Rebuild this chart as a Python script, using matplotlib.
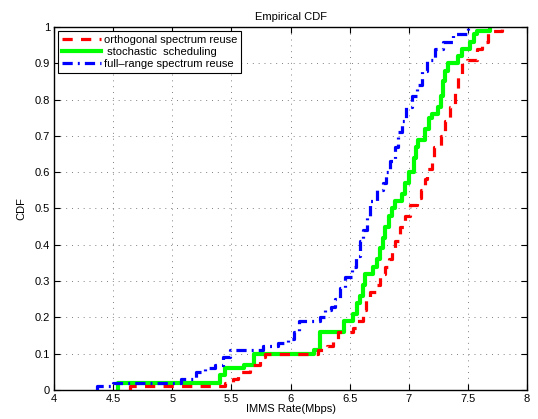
import matplotlib
matplotlib.use("Agg")
import matplotlib.pyplot as plt
import numpy as np

plt.rcParams['font.family'] = ['Liberation Sans', 'DejaVu Sans']

# Step vertices (x, CDF value after step)
ortho_x = [4.64, 5.45, 5.51, 5.56, 5.66, 5.74, 5.78, 6.23, 6.31, 6.36, 6.40, 6.53, 6.56,
           6.61, 6.64, 6.67, 6.73, 6.76, 6.80, 6.83, 6.86, 6.885, 6.93, 6.97, 7.01, 7.07,
           7.10, 7.14, 7.155, 7.195, 7.21, 7.27, 7.31, 7.35, 7.39, 7.42, 7.45, 7.49, 7.58,
           7.62, 7.67, 7.79]
ortho_y = [0.01, 0.02, 0.03, 0.05, 0.07, 0.09, 0.10, 0.11, 0.12, 0.14, 0.16, 0.17, 0.19,
           0.22, 0.25, 0.27, 0.29, 0.32, 0.34, 0.36, 0.38, 0.41, 0.45, 0.48, 0.51, 0.53,
           0.55, 0.58, 0.61, 0.63, 0.67, 0.70, 0.74, 0.78, 0.83, 0.87, 0.90, 0.91, 0.94,
           0.96, 0.99, 1.00]

stoch_x = [4.54, 5.40, 5.45, 5.61, 5.69, 6.20, 6.25, 6.45, 6.53, 6.56, 6.59, 6.61, 6.63,
           6.70, 6.73, 6.76, 6.78, 6.80, 6.83, 6.86, 6.885, 6.94, 6.97, 7.00, 7.04, 7.06,
           7.08, 7.14, 7.17, 7.20, 7.25, 7.27, 7.29, 7.31, 7.33, 7.42, 7.45, 7.52, 7.55,
           7.58, 7.69]
stoch_y = [0.02, 0.04, 0.06, 0.07, 0.10, 0.11, 0.16, 0.19, 0.21, 0.24, 0.26, 0.29, 0.32,
           0.34, 0.36, 0.39, 0.42, 0.45, 0.48, 0.50, 0.52, 0.54, 0.57, 0.60, 0.64, 0.67,
           0.69, 0.72, 0.75, 0.76, 0.78, 0.81, 0.85, 0.88, 0.90, 0.92, 0.94, 0.96, 0.98,
           0.99, 1.00]

full_x = [4.36, 4.50, 5.07, 5.20, 5.28, 5.36, 5.43, 5.49, 5.77, 5.89, 5.98, 6.03, 6.07,
          6.25, 6.29, 6.34, 6.38, 6.42, 6.46, 6.52, 6.55, 6.59, 6.61, 6.645, 6.67, 6.73,
          6.78, 6.81, 6.84, 6.885, 6.91, 6.94, 6.98, 7.03, 7.07, 7.11, 7.15, 7.22, 7.29,
          7.37, 7.49, 7.50]
full_y = [0.01, 0.02, 0.03, 0.05, 0.06, 0.07, 0.09, 0.11, 0.12, 0.13, 0.14, 0.16, 0.19,
          0.20, 0.22, 0.23, 0.25, 0.28, 0.31, 0.34, 0.37, 0.41, 0.44, 0.48, 0.52, 0.55,
          0.57, 0.60, 0.63, 0.67, 0.71, 0.74, 0.78, 0.81, 0.84, 0.88, 0.91, 0.94, 0.96,
          0.98, 0.99, 1.00]

labels = ['orthogonal spectrum reuse', ' stochastic  scheduling', 'full\u2013range spectrum reuse']
xticks = [4, 4.5, 5, 5.5, 6, 6.5, 7, 7.5, 8]
xticklabels = ['4', '4.5', '5', '5.5', '6', '6.5', '7', '7.5', '8']
yticks = [0, 0.1, 0.2, 0.3, 0.4, 0.5, 0.6, 0.7, 0.8, 0.9, 1]
yticklabels = ['0', '0.1', '0.2', '0.3', '0.4', '0.5', '0.6', '0.7', '0.8', '0.9', '1']

fig = plt.figure(figsize=(5.38, 4.19), dpi=100)
ax = fig.add_axes([0.1004, 0.0692, 0.8792, 0.8664])

def with_start(xs, ys):
    return [xs[0]] + xs, [0.0] + ys

x, y = with_start(ortho_x, ortho_y)
ax.step(x, y, where='post', color='#ff0000', lw=2.3, linestyle=(0, (3.2, 2.6)),
        label=labels[0], zorder=3)
x, y = with_start(stoch_x, stoch_y)
ax.step(x, y, where='post', color='#00ff00', lw=3.0, linestyle='-',
        label=labels[1], zorder=2)
x, y = with_start(full_x, full_y)
ax.step(x, y, where='post', color='#0000ff', lw=2.3, linestyle=(0, (3.2, 1.6, 0.6, 1.6)),
        label=labels[2], zorder=4)

ax.set_xlim(4, 8)
ax.set_ylim(0, 1)
ax.set_xticks(xticks)
ax.set_xticklabels(xticklabels)
ax.set_yticks(yticks)
ax.set_yticklabels(yticklabels)
ax.tick_params(direction='in', length=4, width=0.8, labelsize=8, top=True, right=True,
               pad=3)
ax.grid(True, linestyle=(0, (1, 5)), color='#808080', linewidth=0.7)
for s in ax.spines.values():
    s.set_linewidth(1.0)
    s.set_color('black')

ax.set_title('Empirical CDF', fontsize=8, pad=5)
ax.set_xlabel('IMMS Rate(Mbps)', fontsize=8, labelpad=0)
ax.set_ylabel('CDF', fontsize=8, labelpad=6)

leg = ax.legend(loc='upper left', fontsize=8, frameon=True, fancybox=False,
                edgecolor='black', framealpha=1, borderpad=0.3, labelspacing=0.2,
                handlelength=3.5, handletextpad=0.3, borderaxespad=0.4)
leg.get_frame().set_linewidth(0.8)

fig.savefig('out.png', dpi=100)
